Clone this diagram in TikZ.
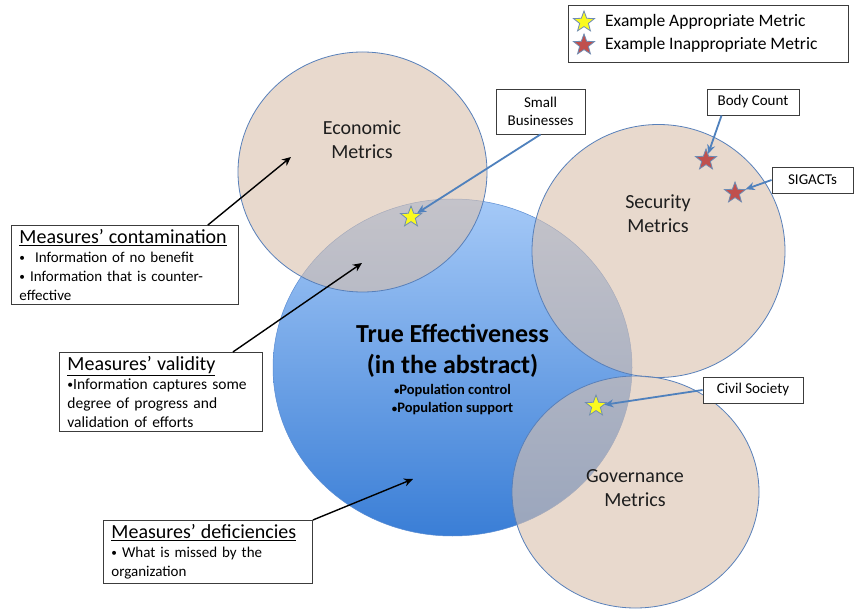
\documentclass[tikz,border=0pt]{standalone}
\usepackage{fontspec}
\setmainfont{Carlito}
\usetikzlibrary{shapes.geometric,arrows.meta,calc}
\newcommand{\smbul}{\raisebox{0.1ex}{\scalebox{0.75}{•}}}
\begin{document}
\begin{tikzpicture}[x=1pt,y=-1pt,
  tanfill/.style={fill={rgb,255:red,218;green,192;blue,172}, fill opacity=0.6, draw={rgb,255:red,88;green,128;blue,186}, line width=0.8pt},
  metric/.style={align=center, font=\fontsize{20}{24}\selectfont, text={rgb,255:red,30;green,30;blue,30}},
  callbox/.style={draw={rgb,255:red,60;green,60;blue,60}, line width=0.9pt, fill=white, align=left, anchor=north west, inner xsep=8pt, inner ysep=4pt, font=\fontsize{15}{19}\selectfont},
  tagbox/.style={draw={rgb,255:red,60;green,60;blue,60}, line width=0.9pt, fill=white, align=center, font=\fontsize{15}{18}\selectfont, inner sep=0pt},
  goodstar/.style={star, star points=5, star point ratio=2.4, minimum size=22pt, inner sep=0pt, fill={rgb,255:red,250;green,250;blue,30}, draw={rgb,255:red,110;green,140;blue,180}, line width=0.8pt},
  badstar/.style={goodstar, fill={rgb,255:red,192;green,80;blue,77}},
  blackarrow/.style={-{Stealth[length=9pt,width=8pt]}, line width=1.4pt, black},
  bluearrow/.style={-{Stealth[length=9pt,width=8pt]}, line width=1.8pt, draw={rgb,255:red,79;green,129;blue,189}},
]
\useasboundingbox (0,0) rectangle (854,609);
\fill[white] (0,0) rectangle (854,609);

% big blue circle
\shade[top color={rgb,255:red,165;green,201;blue,247}, bottom color={rgb,255:red,58;green,126;blue,214}]
  (452.5,367.5) ellipse [x radius=179.5, y radius=168.5];
\draw[draw={rgb,255:red,90;green,140;blue,210}, line width=0.5pt] (452.5,367.5) ellipse [x radius=179.5, y radius=168.5];

% tan circles
\path[tanfill] (362.5,172) ellipse [x radius=124.5, y radius=120];
\path[tanfill] (658.5,251) ellipse [x radius=126.5, y radius=126.5];
\path[tanfill] (635.5,492) ellipse [x radius=123.5, y radius=116];

% labels
\node[metric] (econ) at (362,140) {Economic\\Metrics};
\node[metric] (sec) at (658,214) {Security\\Metrics};
\node[metric] (gov) at (635,488) {Governance\\Metrics};
\node[align=center, font=\fontsize{26}{31}\selectfont\bfseries] (te) at (452.5,351) {True Effectiveness\\(in the abstract)};
\node[align=center, font=\fontsize{14.5}{18}\selectfont\bfseries] (tb) at (452.5,400) {\smbul Population control\\\smbul Population support};

% callout boxes
\node[callbox, text width=211pt] (cont) at (11,225)
  {{\fontsize{20}{24}\selectfont\underline{Measures’ contamination}\par}\smbul\ \ Information of no benefit\\\smbul\ Information that is counter-\\effective};
\node[callbox, text width=187pt, font=\fontsize{15.5}{19}\selectfont] (val) at (59,352)
  {{\fontsize{20}{24}\selectfont\underline{Measures’ validity}\par}\smbul Information captures some\\degree of progress and\\validation of efforts};
\node[callbox, text width=193pt] (def) at (103,520)
  {{\fontsize{20}{24}\selectfont\underline{Measures’ deficiencies}\par}\smbul\ What is missed by the\\organization};

\coordinate (tipA) at (291,157);
\coordinate (tipB) at (362,263);
\coordinate (tipC) at (413,479);
\draw[blackarrow] ([xshift=-31pt]cont.north east) -- (tipA);
\draw[blackarrow] ([xshift=-30pt]val.north east) -- (tipB);
\draw[blackarrow] (def.north east) -- (tipC);

% tag boxes
\node[tagbox, minimum width=89pt, minimum height=45pt] (sb) at (540.5,111.5) {Small\\Businesses};
\node[tagbox, minimum width=92pt, minimum height=26pt] (bc) at (753,102) {Body Count};
\node[tagbox, minimum width=81pt, minimum height=26pt] (sg) at (812.5,180) {SIGACTs};
\node[tagbox, minimum width=100pt, minimum height=26pt] (cs) at (753,390) {Civil Society};

% stars
\node[goodstar] (s1) at (411,217) {};
\node[badstar] (s2) at (706,160) {};
\node[badstar] (s3) at (735,193) {};
\node[goodstar] (s4) at (596,406) {};

\draw[bluearrow] (sb.south) -- (s1);
\draw[bluearrow] ([xshift=15pt]bc.south west) -- (s2);
\draw[bluearrow] (sg.west) -- (s3);
\draw[bluearrow] (cs.west) -- (s4);

% legend
\node[draw={rgb,255:red,60;green,60;blue,60}, line width=0.9pt, fill=white, minimum width=280pt, minimum height=57pt, inner sep=0pt] (leg) at (708,33.5) {};
\node[goodstar] (lg1) at (584,22) {};
\node[badstar] (lg2) at (584,45) {};
\node[anchor=west, font=\fontsize{17.5}{20}\selectfont, inner sep=0pt] (lt1) at (605,22) {Example Appropriate Metric};
\node[anchor=west, font=\fontsize{17.5}{20}\selectfont, inner sep=0pt] (lt2) at (605,45) {Example Inappropriate Metric};
\end{tikzpicture}
\end{document}
